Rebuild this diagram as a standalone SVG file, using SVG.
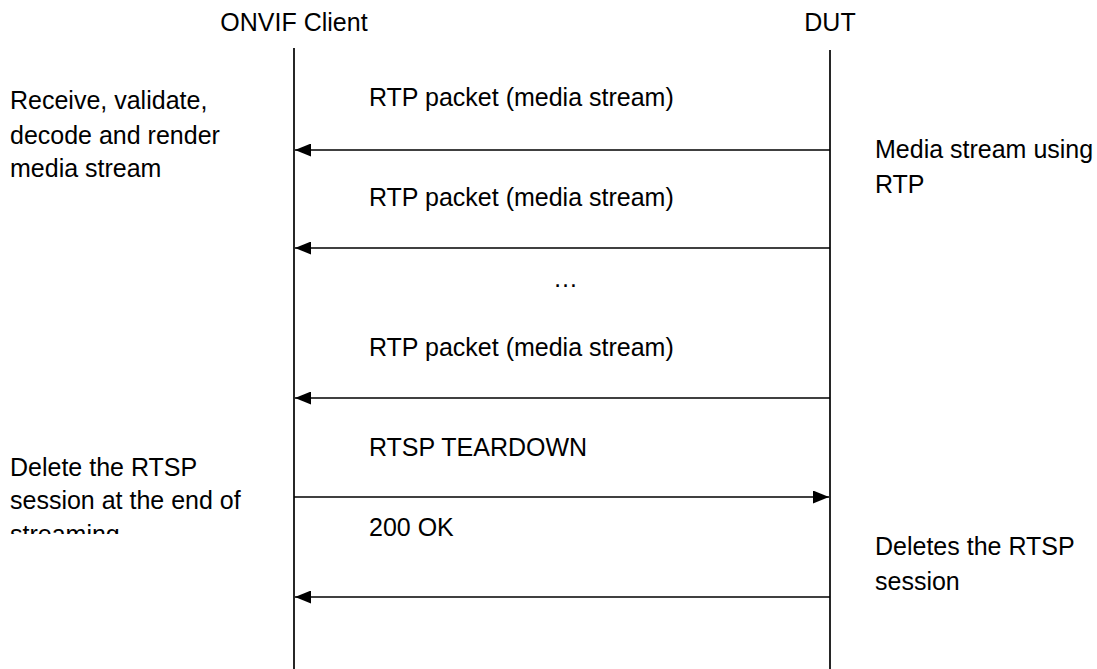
<svg xmlns="http://www.w3.org/2000/svg" width="1097" height="669" viewBox="0 0 1097 669">
  <style>
    text { font-family: "Liberation Sans", Arial, sans-serif; font-size: 25px; fill: #000; }
    .mid { text-anchor: middle; }
    .life { stroke: #000; stroke-width: 1.7; fill: none; }
    .msg { stroke: #000; stroke-width: 1.4; fill: none; }
  </style>
  <defs>
    <marker id="ah" markerWidth="16" markerHeight="13" refX="16" refY="6.5" orient="auto" markerUnits="userSpaceOnUse">
      <path d="M0,0 L16,6.5 L0,13 Z" fill="#000"/>
    </marker>
    <clipPath id="clipDel">
      <rect x="0" y="0" width="290" height="534"/>
    </clipPath>
  </defs>
  <rect width="1097" height="669" fill="#fff"/>

  <g id="client">
    <text class="mid" x="294" y="31">ONVIF Client</text>
    <line class="life" x1="294" y1="48" x2="294" y2="669"/>
  </g>
  <g id="dut">
    <text class="mid" x="830" y="31">DUT</text>
    <line class="life" x1="830" y1="50" x2="830" y2="669"/>
  </g>

  <g id="note-client-receive">
    <text x="10" y="109">Receive, validate,</text>
    <text x="10" y="144">decode and render</text>
    <text x="10" y="177">media stream</text>
  </g>
  <g id="note-dut-stream">
    <text x="875" y="158">Media stream using</text>
    <text x="875" y="193">RTP</text>
  </g>
  <g id="note-client-delete" clip-path="url(#clipDel)">
    <text x="10" y="476">Delete the RTSP</text>
    <text x="10" y="509">session at the end of</text>
    <text x="10" y="543">streaming</text>
  </g>
  <g id="note-dut-delete">
    <text x="875" y="555">Deletes the RTSP</text>
    <text x="875" y="590">session</text>
  </g>

  <g id="connectors">
    <text x="369" y="106">RTP packet (media stream)</text>
    <line class="msg" x1="830" y1="150" x2="295" y2="150" marker-end="url(#ah)"/>
    <text x="369" y="206">RTP packet (media stream)</text>
    <line class="msg" x1="830" y1="248" x2="295" y2="248" marker-end="url(#ah)"/>
    <text x="553" y="287">…</text>
    <text x="369" y="356">RTP packet (media stream)</text>
    <line class="msg" x1="830" y1="398" x2="295" y2="398" marker-end="url(#ah)"/>
    <text x="369" y="456">RTSP TEARDOWN</text>
    <line class="msg" x1="294" y1="497" x2="829" y2="497" marker-end="url(#ah)"/>
    <text x="369" y="536">200 OK</text>
    <line class="msg" x1="830" y1="597" x2="295" y2="597" marker-end="url(#ah)"/>
  </g>
</svg>
